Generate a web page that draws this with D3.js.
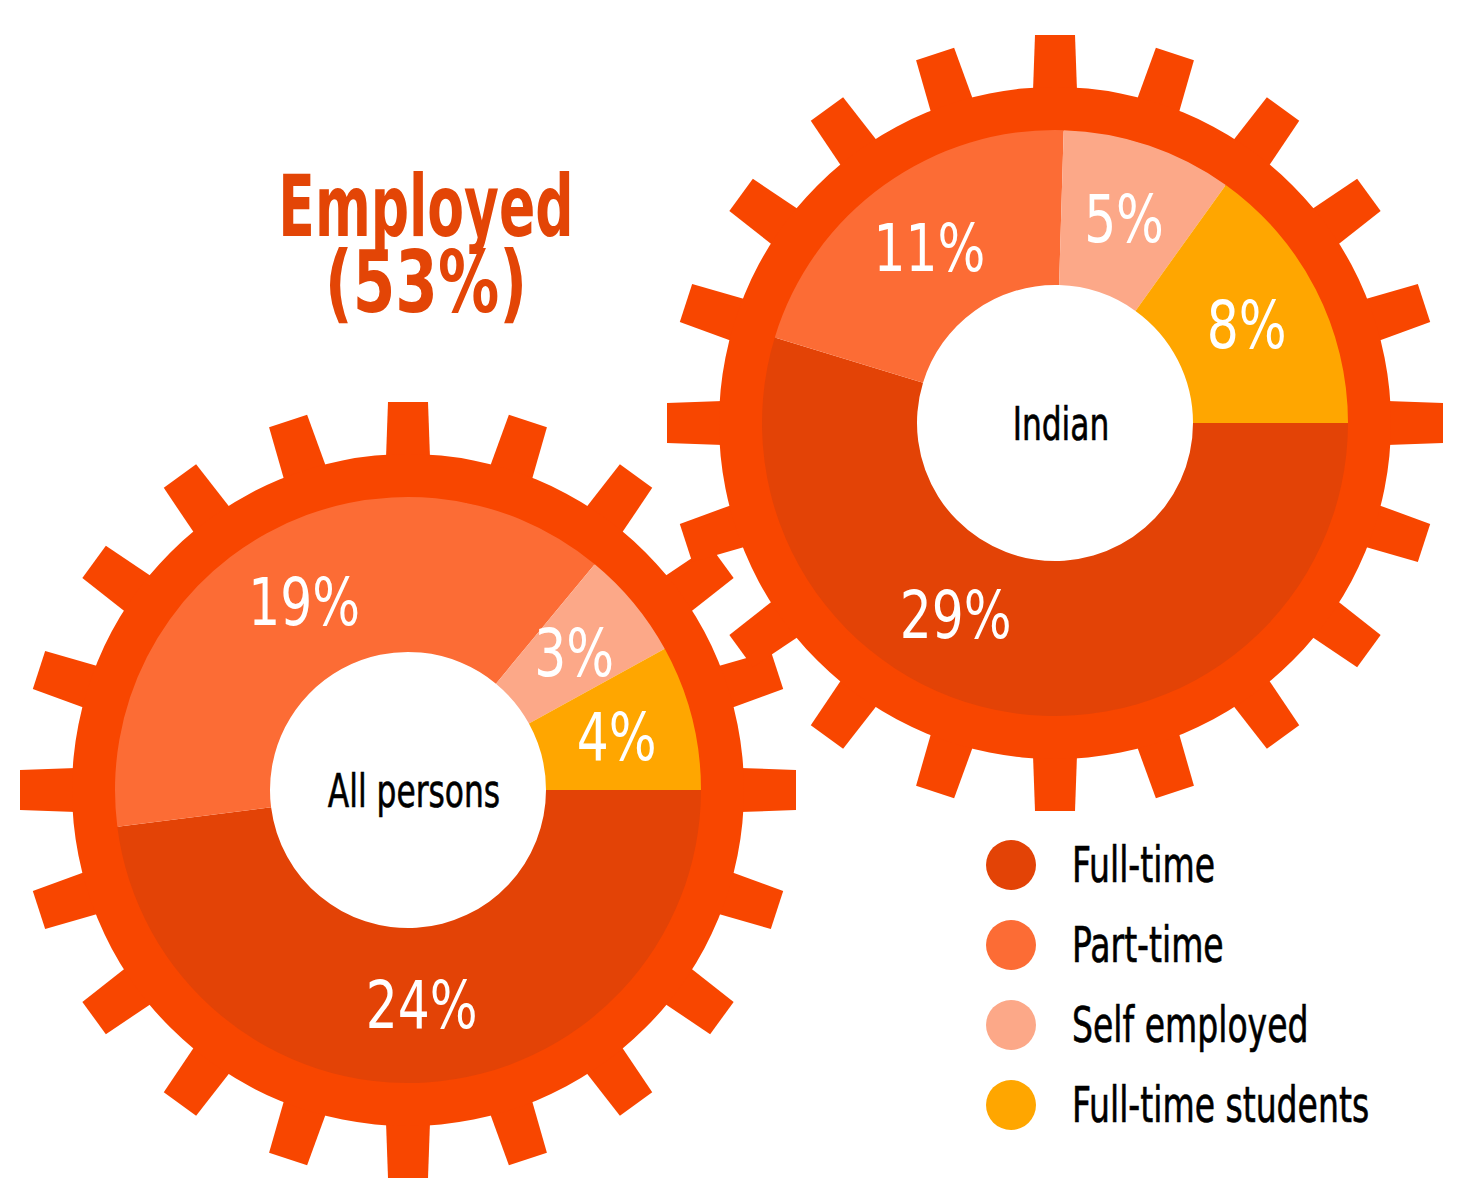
<!DOCTYPE html>
<html>
<head>
<meta charset="utf-8">
<script src="https://cdn.jsdelivr.net/npm/d3@7"></script>
<style>
  html, body { margin: 0; padding: 0; background: #fff; }
  svg { display: block; }
  text { font-family: 'Liberation Sans Narrow', 'DejaVu Sans Condensed', 'Arial Narrow', sans-serif; }
</style>
</head>
<body>
<svg id="chart" width="1457" height="1192"></svg>
<script>
// data
const categories = ['Full-time', 'Part-time', 'Self employed', 'Full-time students'];
const groups = ['All persons', 'Indian'];
const allPersonsValues = [24, 19, 3, 4];
const indianValues = [29, 11, 5, 8];
const titleLines = ['Employed', '(53%)'];

// layout
const gearCenters = [[408, 790], [1055, 423]];
const rHole = 138, rPie = 293, rRing = 336, rTooth = 388;
const nTeeth = 20;
const labelNudge = {'Indian|Full-time': 19};

const colors = d3.scaleOrdinal()
  .domain(categories)
  .range(['#e34306', '#fc6c35', '#fca888', '#ffa600']);
const gearColor = '#f84600';

const svg = d3.select('#chart');

// squeeze the glyphs horizontally so the fallback font looks condensed
function squeeze(sel, k) {
  sel.each(function() {
    const w = this.getComputedTextLength();
    d3.select(this).attr('textLength', w * k).attr('lengthAdjust', 'spacingAndGlyphs');
  });
}

const pie = d3.pie()
  .sort(null)
  .value(d => d.value)
  .startAngle(Math.PI / 2)
  .endAngle(Math.PI / 2 + 2 * Math.PI);

const sliceArc = d3.arc().innerRadius(rHole).outerRadius(rPie);
const ringArc = d3.arc().innerRadius(rPie - 1).outerRadius(rRing).startAngle(0).endAngle(2 * Math.PI);
const labelR = (rHole + rPie) / 2;

// tooth outline, slightly tapered
const toothPath = d3.line()([[-22, -rRing + 4], [-20, -rTooth], [20, -rTooth], [22, -rRing + 4]]) + 'Z';

[allPersonsValues, indianValues].forEach((values, gi) => {
  const g = svg.append('g')
    .attr('class', 'gear gear_' + gi)
    .attr('transform', 'translate(' + gearCenters[gi][0] + ',' + gearCenters[gi][1] + ')');

  g.selectAll('.tooth')
    .data(d3.range(nTeeth))
    .enter()
    .append('path')
    .attr('class', 'tooth')
    .attr('d', toothPath)
    .attr('transform', i => 'rotate(' + (i * 360 / nTeeth) + ')')
    .style('fill', gearColor);

  g.append('path')
    .attr('class', 'ring')
    .attr('d', ringArc())
    .style('fill', gearColor);

  const arcs = pie(values.map((v, i) => ({cat: categories[i], value: v})));

  g.selectAll('.slice')
    .data(arcs)
    .enter()
    .append('path')
    .attr('class', 'slice')
    .attr('d', sliceArc)
    .style('fill', d => colors(d.data.cat));

  const labels = g.selectAll('.slice_label')
    .data(arcs)
    .enter()
    .append('text')
    .attr('class', 'slice_label')
    .attr('transform', d => {
      const a = (d.startAngle + d.endAngle) / 2 + (labelNudge[groups[gi] + '|' + d.data.cat] || 0) * Math.PI / 180;
      return 'translate(' + (labelR * Math.sin(a)) + ',' + (-labelR * Math.cos(a)) + ')';
    })
    .attr('text-anchor', 'middle')
    .attr('dy', '0.36em')
    .style('font-size', '65px')
    .style('fill', '#fff')
    .text(d => d.value + '%');
  squeeze(labels, 0.86);

  const centre = g.append('text')
    .attr('class', 'centre_label')
    .attr('x', 6)
    .attr('dy', '0.36em')
    .attr('text-anchor', 'middle')
    .style('font-size', '47px')
    .style('fill', '#000')
    .style('stroke', '#000')
    .style('stroke-width', 0.6)
    .text(groups[gi]);
  squeeze(centre, 0.74);
});

// title
const titleSqueeze = [0.70, 0.80];
const title = svg.append('text')
  .attr('class', 'title')
  .attr('text-anchor', 'middle')
  .style('font-size', '85px')
  .style('font-weight', 'bold')
  .style('fill', '#e34506');
title.selectAll('tspan')
  .data(titleLines)
  .enter()
  .append('tspan')
  .attr('x', 426)
  .attr('y', (d, i) => 236 + i * 76)
  .text(d => d)
  .each(function(d, i) {
    const w = this.getComputedTextLength();
    d3.select(this).attr('textLength', w * titleSqueeze[i]).attr('lengthAdjust', 'spacingAndGlyphs');
  });

// legend
const legend = svg.append('g')
  .attr('class', 'legend')
  .attr('transform', 'translate(1011,882)');

const legendItems = legend.selectAll('.legend_item')
  .data(categories)
  .enter()
  .append('g')
  .attr('class', 'legend_item')
  .attr('transform', (d, i) => 'translate(0,' + i * 80 + ')');

legendItems.append('circle')
  .attr('cx', 0)
  .attr('cy', -17)
  .attr('r', 25)
  .style('fill', d => colors(d));

const legendText = legendItems.append('text')
  .attr('x', 61)
  .attr('y', 0)
  .style('font-size', '49px')
  .style('fill', '#000')
  .style('stroke', '#000')
  .style('stroke-width', 0.6)
  .text(d => d);
squeeze(legendText, 0.75);
</script>
</body>
</html>
